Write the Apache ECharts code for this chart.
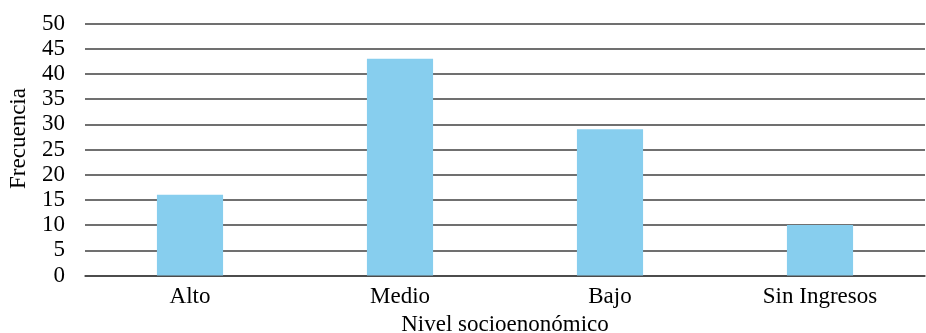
<!DOCTYPE html>
<html>
<head>
<meta charset="utf-8">
<script src="https://cdn.jsdelivr.net/npm/echarts@6/dist/echarts.min.js"></script>
<style>
  html, body { margin: 0; padding: 0; background: #fff; }
  #chart { width: 926px; height: 333px; }
</style>
</head>
<body>
<div id="chart"></div>
<script>
// Frecuencia por nivel socioeconómico
const categories = ['Alto', 'Medio', 'Bajo', 'Sin Ingresos'];
const frecuencia = [16, 43, 29, 10];
const yTicks = { min: 0, max: 50, interval: 5 };

const font = '"Liberation Serif", "Times New Roman", serif';
const textSize = 23;
const chart = echarts.init(document.getElementById('chart'));
chart.setOption({
  animation: false,
  backgroundColor: '#ffffff',
  grid: {
    left: 85, right: 1, top: 23.5, bottom: 57.5,
    containLabel: false,
    outerBoundsMode: 'none'
  },
  xAxis: {
    type: 'category',
    data: categories,
    name: 'Nivel socioenonómico',
    nameLocation: 'middle',
    nameGap: 37,
    nameTextStyle: { fontFamily: font, fontSize: textSize, color: '#000' },
    axisLine: { show: true, lineStyle: { color: '#404040', width: 1.5 } },
    axisTick: { show: false },
    axisLabel: { fontFamily: font, fontSize: textSize, color: '#000', margin: 10 }
  },
  yAxis: {
    type: 'value',
    min: yTicks.min,
    max: yTicks.max,
    interval: yTicks.interval,
    name: 'Frecuencia',
    nameLocation: 'middle',
    nameGap: 55,
    nameRotate: 90,
    nameTextStyle: { fontFamily: font, fontSize: textSize, color: '#000', padding: [0, 0, 0, 22] },
    axisLine: { show: false },
    axisTick: { show: false },
    axisLabel: { fontFamily: font, fontSize: textSize, color: '#000', margin: 20 },
    splitLine: { show: true, lineStyle: { color: '#404040', width: 1.5 } }
  },
  series: [{
    type: 'bar',
    data: frecuencia,
    barWidth: '31.5%',
    itemStyle: { color: '#87CEEE' }
  }]
});
</script>
</body>
</html>
